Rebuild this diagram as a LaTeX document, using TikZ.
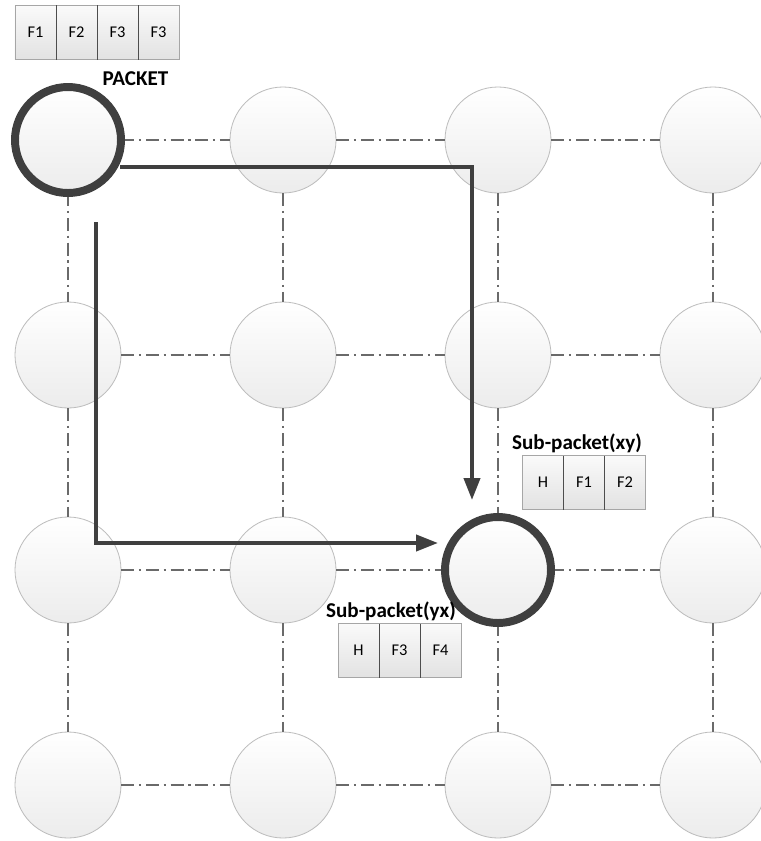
\documentclass[tikz,border=0pt]{standalone}
\usepackage{fontspec}
\setmainfont{Carlito}
\usetikzlibrary{positioning,arrows.meta}
\definecolor{ringgray}{HTML}{3F3F3F}
\definecolor{edgegray}{HTML}{BDBDBD}
\definecolor{meshgray}{HTML}{6A6A6A}
\definecolor{cellgray}{HTML}{A6A6A6}
\definecolor{splitgray}{HTML}{4D4D4D}
\definecolor{celltop}{HTML}{FAFAFA}
\definecolor{cellbot}{HTML}{E2E2E2}
\definecolor{ballbot}{HTML}{ECECEC}
\tikzset{
  router/.style={circle, draw=edgegray, line width=.7pt, top color=white, bottom color=ballbot,
    minimum size=3.18cm, inner sep=0pt},
  busy/.style={draw=ringgray, line width=6.8pt},
  mesh/.style={draw=meshgray, line width=1.2pt, dash pattern=on 11pt off 4pt on 2pt off 4pt},
  route/.style={draw=ringgray, line width=3.4pt, -{Triangle[length=18.7pt,width=13.6pt]}},
  field/.style={rectangle, draw=cellgray, line width=.6pt, top color=celltop, bottom color=cellbot,
    minimum width=1.23cm, minimum height=1.62cm, inner sep=0pt, outer sep=0pt,
    font=\fontsize{14}{16}\selectfont},
  split/.style={draw=splitgray, line width=.8pt},
  title/.style={font=\bfseries\fontsize{18}{21}\selectfont}
}
\begin{document}
\begin{tikzpicture}[x=0.03cm, y=-0.03cm]
\path[fill=white, use as bounding box] (0,0) rectangle (761,841);

% 4x4 mesh of routers
\foreach \r in {1,...,4}
  \foreach \c in {1,...,4}
    \node[router] (n\r\c) at ({68+215*(\c-1)},{140+215*(\r-1)}) {};
\foreach \r in {1,...,4}
  \foreach \c/\d in {1/2,2/3,3/4}
  {
    \draw[mesh] (n\r\c) -- (n\r\d);
    \draw[mesh] (n\c\r) -- (n\d\r);
  }

% source and destination
\node[router, busy] (src) at (n11) {};
\node[router, busy] (dst) at (n33) {};

% the two routes
\coordinate (xyfrom) at (120,167);
\coordinate (xyto) at (472,500);
\draw[route] (xyfrom) -| (xyto);
\coordinate (yxfrom) at (96,222);
\coordinate (yxto) at (438,543);
\draw[route] (yxfrom) |- (yxto);

% packet
\node[field] (p1) at (35.5,32.5) {F1};
\node[field, right=0pt of p1] (p2) {F2};
\node[field, right=0pt of p2] (p3) {F3};
\node[field, right=0pt of p3] (p4) {F3};
\foreach \a in {p1,p2,p3}
    \draw[split] (\a.north east) -- (\a.south east);
\node[title] (packet) at (135.5,79) {PACKET};

% sub-packet xy
\node[field] (x1) at (543,482.5) {H};
\node[field, right=0pt of x1] (x2) {F1};
\node[field, right=0pt of x2] (x3) {F2};
\foreach \a in {x1,x2}
    \draw[split] (\a.north east) -- (\a.south east);
\node[title] (xylabel) at (577,443) {Sub-packet(xy)};

% sub-packet yx
\node[field] (y1) at (358.5,650.5) {H};
\node[field, right=0pt of y1] (y2) {F3};
\node[field, right=0pt of y2] (y3) {F4};
\foreach \a in {y1,y2}
    \draw[split] (\a.north east) -- (\a.south east);
\node[title] (yxlabel) at (391,611) {Sub-packet(yx)};

\end{tikzpicture}
\end{document}
